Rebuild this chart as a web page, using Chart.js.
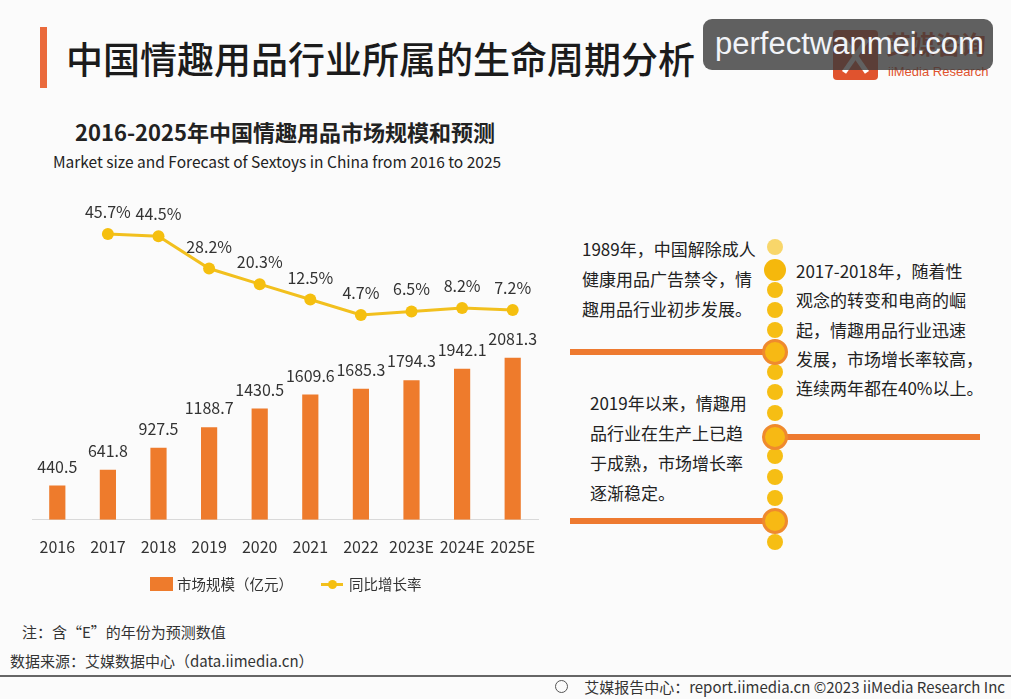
<!DOCTYPE html>
<html>
<head>
<meta charset="utf-8">
<script src="https://cdn.jsdelivr.net/npm/chart.js@4.4.1/dist/chart.umd.min.js"></script>
<style>
  body { margin: 0; width: 1011px; height: 699px; overflow: hidden; position: relative;
         background: #fbfbfb; font-family: "Noto Sans CJK SC", sans-serif; color: #333; }
  .abs { position: absolute; white-space: nowrap; }
  .tl-text { font-size: 17px; color: #222; }
  .dot { position: absolute; border-radius: 50%; background: #f6be14; }
  .bar-h { position: absolute; height: 6px; background: #ee7a30; }
</style>
</head>
<body>

<!-- header -->
<div class="abs" style="left:40px;top:27px;width:7px;height:61px;background:#ea6a3c"></div>
<div class="abs" style="left:66px;top:35px;font-size:37px;line-height:46px;font-weight:500;color:#1b1b1b">中国情趣用品行业所属的生命周期分析</div>

<!-- logo behind watermark -->
<div class="abs" style="left:833px;top:30px;width:45px;height:50px;background:#e0532e;border-radius:4px;overflow:hidden">
  <div class="abs" style="left:20px;top:6px;width:5px;height:40px;background:#fff;transform:rotate(35deg)"></div>
  <div class="abs" style="left:20px;top:6px;width:5px;height:40px;background:#fff;transform:rotate(-35deg)"></div>
</div>
<div class="abs" style="left:886px;top:26px;font-size:25px;line-height:34px;font-weight:700;color:#e0532e">艾媒咨询</div>
<div class="abs" style="left:888px;top:63px;font-size:13px;line-height:18px;color:#e0532e;font-family:'Liberation Sans Narrow','Liberation Sans',sans-serif">iiMedia Research</div>
<div class="abs" style="left:703px;top:19px;width:290px;height:51px;background:rgba(58,58,58,0.8);border-radius:9px"></div>
<div class="abs" style="left:715px;top:23px;font-size:31px;line-height:42px;color:#f2f4f8;font-family:'Liberation Sans',sans-serif">perfectwanmei.com</div>

<!-- chart titles -->
<div class="abs" style="left:75px;top:116px;font-size:22px;line-height:30px;font-weight:700;color:#222">2016-2025年中国情趣用品市场规模和预测</div>
<div class="abs" style="left:53px;top:150px;font-size:15.5px;line-height:22px;color:#222">Market size and Forecast of Sextoys in China from 2016 to 2025</div>

<div class="abs" style="left:0;top:180px;width:560px;height:400px">
  <canvas id="c" width="560" height="400"></canvas>
</div>

<!-- legend -->
<div id="legend"></div>

<!-- notes -->
<div class="abs" style="left:22px;top:622px;font-size:15px;line-height:20px;color:#333">注：含“E”的年份为预测数值</div>
<div class="abs" style="left:10px;top:651px;font-size:15px;line-height:20px;color:#333">数据来源：艾媒数据中心（data.iimedia.cn）</div>
<div class="abs" style="left:0;top:675px;width:1011px;height:2px;background:#666"></div>
<div class="abs" style="left:555px;top:680px;width:11px;height:11px;border:1.5px solid #555;border-radius:50%"></div>
<div class="abs" style="right:6px;top:677px;font-size:15px;line-height:20px;color:#333">艾媒报告中心：report.iimedia.cn ©2023 iiMedia Research Inc</div>

<!-- timeline -->
<div id="timeline"></div>
<div class="abs tl-text" style="left:582px;top:234px;line-height:30px">1989年，中国解除成人<br>健康用品广告禁令，情<br>趣用品行业初步发展。</div>
<div class="abs tl-text" style="left:796px;top:256px;line-height:29.3px">2017-2018年，随着性<br>观念的转变和电商的崛<br>起，情趣用品行业迅速<br>发展，市场增长率较高，<br>连续两年都在40%以上。</div>
<div class="abs tl-text" style="left:590px;top:388px;line-height:30px">2019年以来，情趣用<br>品行业在生产上已趋<br>于成熟，市场增长率<br>逐渐稳定。</div>

<script>
// chart data
const years = ["2016", "2017", "2018", "2019", "2020", "2021", "2022", "2023E", "2024E", "2025E"];
const marketSize = [440.5, 641.8, 927.5, 1188.7, 1430.5, 1609.6, 1685.3, 1794.3, 1942.1, 2081.3];
const growthRate = [null, 45.7, 44.5, 28.2, 20.3, 12.5, 4.7, 6.5, 8.2, 7.2];
const seriesNames = ["市场规模（亿元）", "同比增长率"];

const barColor = "#ee7b2c";
const lineColor = "#f2c01e";

// decorative timeline (not data)
const tlDots = [247, 290, 310, 330, 372, 392, 413, 456, 477, 498, 542];
const tlBig = [270, 352, 437, 521];

const tl = document.getElementById("timeline");
const addBox = (cls, css) => {
  const d = document.createElement("div");
  d.className = cls;
  d.style.cssText = css;
  tl.appendChild(d);
};
addBox("bar-h", "left:570px;top:349px;width:205px");
addBox("bar-h", "left:775px;top:434px;width:205px");
addBox("bar-h", "left:570px;top:518px;width:205px");
tlDots.forEach((y, i) => {
  const r = 8;
  addBox("dot", `left:${775 - r}px;top:${y - r}px;width:${2 * r}px;height:${2 * r}px;` +
    (i === 0 ? "background:#f8d66a" : ""));
});
tlBig.forEach((y, i) => {
  const r = i === 0 ? 11 : 13;
  addBox("dot", `left:${775 - r}px;top:${y - r}px;width:${2 * r}px;height:${2 * r}px;box-sizing:border-box;` +
    (i === 0 ? "background:#f5b80c" : "background:#f7b914;border:3px solid #ef8a2e"));
});

// legend
const lg = document.getElementById("legend");
lg.innerHTML =
  `<div class="abs" style="left:150px;top:577px;width:23px;height:14px;background:${barColor}"></div>` +
  `<div class="abs" style="left:177px;top:574px;font-size:14.5px;line-height:20px;color:#333">${seriesNames[0]}</div>` +
  `<div class="abs" style="left:321px;top:583px;width:22px;height:3px;background:${lineColor}"></div>` +
  `<div class="abs" style="left:328px;top:580px;width:9px;height:9px;border-radius:50%;background:#f5bf0f"></div>` +
  `<div class="abs" style="left:349px;top:574px;font-size:14.5px;line-height:20px;color:#333">${seriesNames[1]}</div>`;

const valueLabels = {
  id: "valueLabels",
  afterDatasetsDraw(chart) {
    const ctx = chart.ctx;
    ctx.save();
    ctx.font = '16px "Noto Sans CJK SC", sans-serif';
    ctx.fillStyle = "#333";
    ctx.textAlign = "center";
    ctx.textBaseline = "middle";
    chart.getDatasetMeta(0).data.forEach((bar, i) => {
      ctx.fillText(marketSize[i].toFixed(1), bar.x, bar.y - 19);
    });
    chart.getDatasetMeta(1).data.forEach((pt, i) => {
      if (growthRate[i] == null) return;
      ctx.fillText(growthRate[i].toFixed(1) + "%", pt.x, pt.y - 22);
    });
    ctx.restore();
  }
};

new Chart(document.getElementById("c"), {
  type: "bar",
  data: {
    labels: years,
    datasets: [
      {
        type: "bar",
        label: seriesNames[0],
        data: marketSize,
        backgroundColor: barColor,
        barPercentage: 0.32,
        categoryPercentage: 1,
        yAxisID: "y",
        order: 1,
      },
      {
        type: "line",
        label: seriesNames[1],
        data: growthRate,
        borderColor: lineColor,
        borderWidth: 3,
        pointRadius: 6,
        pointBackgroundColor: "#f5bf0f",
        pointBorderWidth: 0,
        tension: 0,
        yAxisID: "y1",
        order: 0,
      },
    ],
  },
  options: {
    responsive: false,
    animation: false,
    devicePixelRatio: 1,
    layout: { padding: { left: 32, right: 22, top: 20, bottom: 5 } },
    plugins: {
      legend: { display: false },
      tooltip: { enabled: false },
    },
    scales: {
      x: {
        grid: { display: false, drawTicks: false },
        border: { display: true, color: "#d9d9d9", width: 1 },
        ticks: {
          padding: 18,
          maxRotation: 0,
          minRotation: 0,
          autoSkip: false,
          color: "#333",
          font: { size: 16, family: '"Noto Sans CJK SC", sans-serif' },
        },
      },
      y: { display: false, min: 0, max: 4110 },
      y1: { display: false, min: -99, max: 62.9 },
    },
  },
  plugins: [valueLabels],
});
</script>
</body>
</html>
